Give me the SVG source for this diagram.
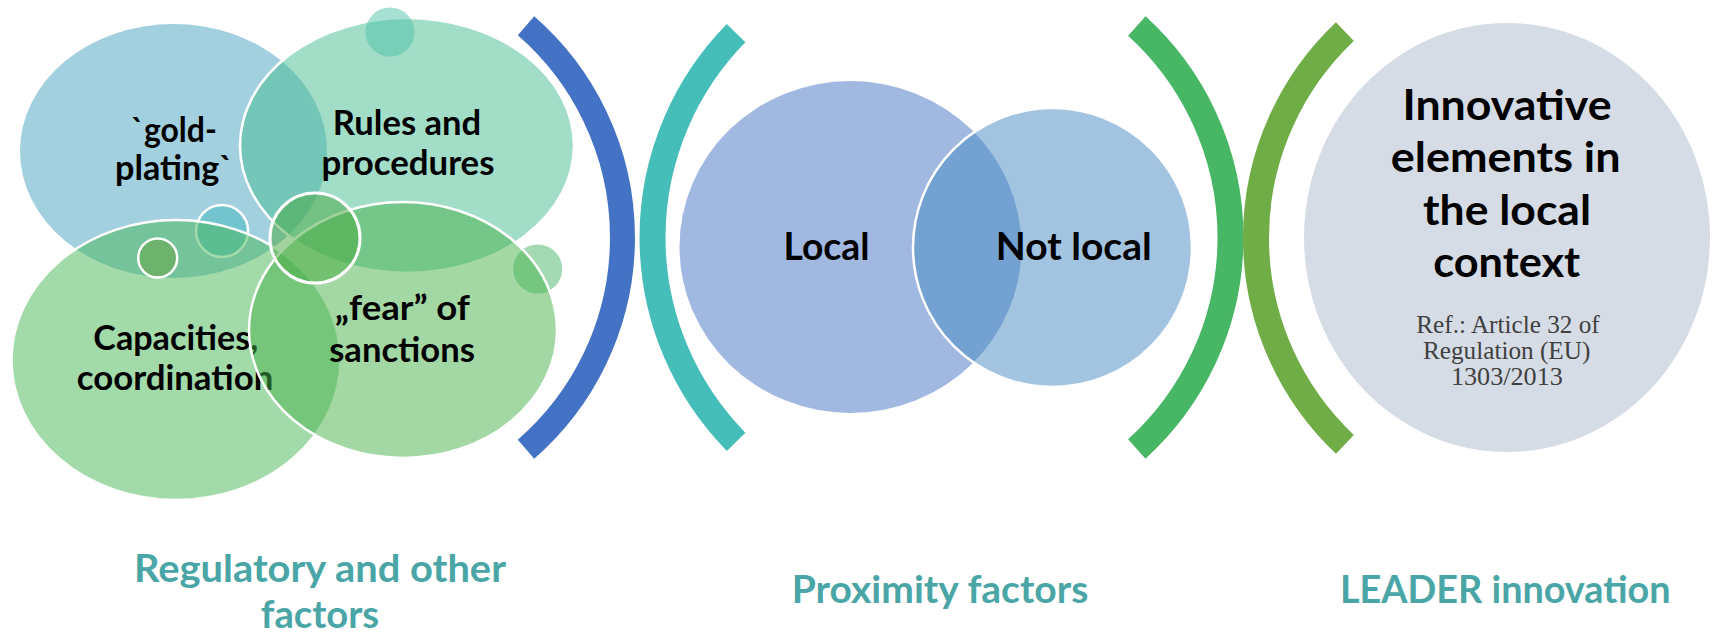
<svg xmlns="http://www.w3.org/2000/svg" width="1716" height="633" viewBox="0 0 1716 633">
<style>
.t{font-family:Lato,"Open Sans","Liberation Sans",sans-serif;font-weight:bold;fill:#000;text-anchor:middle}
.s33{font-size:33.5px}
.s38{font-size:38px}
.s41{font-size:41.5px}
.lab{font-family:Lato,"Open Sans","Liberation Sans",sans-serif;font-weight:bold;font-size:38px;fill:#4AA6A6;text-anchor:middle}
.ref{font-family:"Liberation Serif","Times New Roman",serif;font-size:24.5px;fill:#404040;text-anchor:middle}
.ws{stroke:#fff;stroke-width:2.5}
.arc{fill:none;stroke-linecap:butt}
</style>
<rect width="1716" height="633" fill="#fff"/>

<g id="arcs">
<path class="arc" d="M526,25.8 A280.5,280.5 0 0 1 526,449.2" stroke="#4472C4" stroke-width="25"/>
<path class="arc" d="M736.1,33.2 A291.5,291.5 0 0 0 736.1,441.8" stroke="#45BDB8" stroke-width="26"/>
<path class="arc" d="M1136.8,26 A285.5,285.5 0 0 1 1136.8,449" stroke="#47B665" stroke-width="26"/>
<path class="arc" d="M1344.9,31.6 A284,284 0 0 0 1344.9,444.4" stroke="#70AD47" stroke-width="26"/>
</g>

<g id="node-gold-plating">
<ellipse cx="173.5" cy="151" rx="153.5" ry="127" fill="#46A2C0" fill-opacity="0.5"/>
<text class="t s33" x="174" y="141.7" textLength="85.7" lengthAdjust="spacingAndGlyphs">`gold-</text>
<text class="t s33" x="174" y="180" textLength="118" lengthAdjust="spacingAndGlyphs">plating`</text>
</g>

<g id="node-rules">
<ellipse class="ws" cx="407" cy="145.5" rx="167" ry="127.5" fill="#45BB91" fill-opacity="0.5"/>
<text class="t s33" x="407" y="135" textLength="148.4" lengthAdjust="spacingAndGlyphs">Rules and</text>
<text class="t s33" x="408" y="175" textLength="173" lengthAdjust="spacingAndGlyphs">procedures</text>
</g>

<g id="bubble-top">
<circle cx="390" cy="32" r="24.5" fill="#4BC1A7" fill-opacity="0.5"/>
</g>

<g id="bubble-teal">
<circle cx="222" cy="231" r="26" fill="#41B9BF" fill-opacity="0.5" stroke="#fff" stroke-width="2.5"/>
</g>

<g id="bubble-right">
<circle cx="537.7" cy="269" r="24.5" fill="#47B569" fill-opacity="0.5"/>
</g>

<g id="node-capacities">
<ellipse class="ws" cx="176" cy="360" rx="164.5" ry="140" fill="#45B555" fill-opacity="0.5"/>
<text class="t s33" x="175.8" y="350" textLength="165" lengthAdjust="spacingAndGlyphs">Capacities,</text>
<text class="t s33" x="175" y="390" textLength="196.6" lengthAdjust="spacingAndGlyphs">coordination</text>
</g>

<g id="node-fear">
<ellipse class="ws" cx="403" cy="330" rx="154" ry="128" fill="#47B14A" fill-opacity="0.5"/>
<text class="t s33" x="402.5" y="320" textLength="135" lengthAdjust="spacingAndGlyphs">„fear” of</text>
<text class="t s33" x="402" y="361.7" textLength="145.7" lengthAdjust="spacingAndGlyphs">sanctions</text>
</g>

<g id="bubble-green">
<circle cx="157.7" cy="258" r="19.5" fill="#6DB36D" stroke="#fff" stroke-width="2.5"/>
</g>

<g id="bubble-center">
<circle cx="315" cy="238" r="45" fill="#45A83D" fill-opacity="0.5" stroke="#fff" stroke-width="3"/>
</g>

<g id="node-local">
<ellipse cx="850.5" cy="247" rx="171" ry="166" fill="#4472C4" fill-opacity="0.5"/>
<text class="t s38" x="826.5" y="260" textLength="86" lengthAdjust="spacingAndGlyphs">Local</text>
</g>

<g id="node-not-local">
<circle class="ws" cx="1052.5" cy="247.5" r="139.5" fill="#4589C1" fill-opacity="0.5"/>
<text class="t s38" x="1073.7" y="260" textLength="156" lengthAdjust="spacingAndGlyphs">Not local</text>
</g>

<g id="node-innovation">
<ellipse cx="1507" cy="237.5" rx="203" ry="214.5" fill="#D6DCE5"/>
<text class="t s41" x="1507" y="120" textLength="209" lengthAdjust="spacingAndGlyphs">Innovative</text>
<text class="t s41" x="1505.7" y="172" textLength="229.8" lengthAdjust="spacingAndGlyphs">elements in</text>
<text class="t s41" x="1507" y="225" textLength="168" lengthAdjust="spacingAndGlyphs">the local</text>
<text class="t s41" x="1506.7" y="277" textLength="147" lengthAdjust="spacingAndGlyphs">context</text>
<text class="ref" x="1508" y="333" textLength="183.5" lengthAdjust="spacingAndGlyphs">Ref.: Article 32 of</text>
<text class="ref" x="1506.7" y="359" textLength="167.4" lengthAdjust="spacingAndGlyphs">Regulation (EU)</text>
<text class="ref" x="1506.9" y="385" textLength="112" lengthAdjust="spacingAndGlyphs">1303/2013</text>
</g>

<g id="label-regulatory">
<text class="lab" x="320" y="581.7" textLength="372" lengthAdjust="spacingAndGlyphs">Regulatory and other</text>
<text class="lab" x="320" y="628.3" textLength="118.3" lengthAdjust="spacingAndGlyphs">factors</text>
</g>
<g id="label-proximity">
<text class="lab" x="940" y="603.3" textLength="296.6" lengthAdjust="spacingAndGlyphs">Proximity factors</text>
</g>
<g id="label-leader">
<text class="lab" x="1505.3" y="603.3" textLength="330.7" lengthAdjust="spacingAndGlyphs">LEADER innovation</text>
</g>
</svg>
